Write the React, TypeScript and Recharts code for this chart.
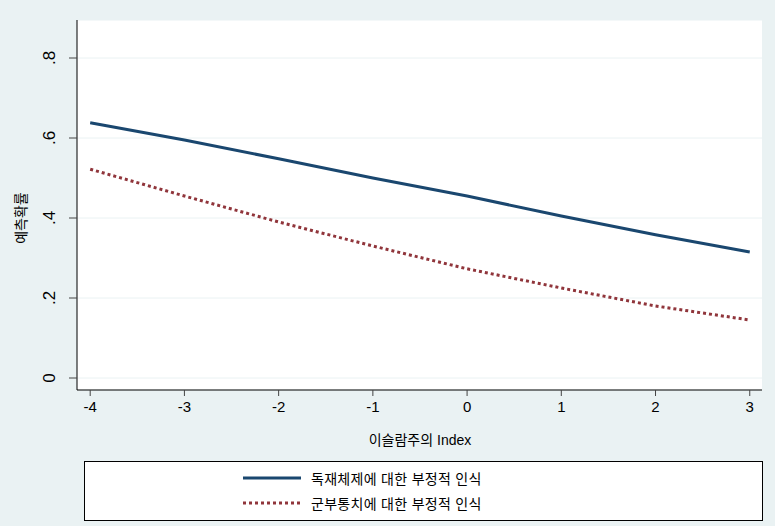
import { LineChart, Line, XAxis, YAxis, CartesianGrid } from "recharts";

const xValues = [-4, -3, -2, -1, 0, 1, 2, 3];
const dictatorship = [0.638, 0.595, 0.548, 0.5, 0.455, 0.405, 0.358, 0.315];
const militaryRule = [0.522, 0.455, 0.39, 0.33, 0.273, 0.225, 0.18, 0.145];
const xTicks = [-4, -3, -2, -1, 0, 1, 2, 3];
const yTicks = [0, 0.2, 0.4, 0.6, 0.8];
const seriesNames = ["독재체제에 대한 부정적 인식", "군부통치에 대한 부정적 인식"];

const NAVY = "#1a476f";
const MAROON = "#90353b";
const BG = "#eaf2f3";
const FONT = "'Liberation Sans', Arial, 'Noto Sans CJK KR', sans-serif";

const data = xValues.map((x, i) => ({ x, a: dictatorship[i], b: militaryRule[i] }));

const fmtY = (v: number) => (v === 0 ? "0" : String(v).replace(/^0/, ""));

const YTick = (props: any) => {
  const { x, y, payload } = props;
  return (
    <text
      x={x - 12}
      y={y}
      transform={`rotate(-90 ${x - 12} ${y})`}
      textAnchor="middle"
      fontSize={17}
      fill="#000"
      fontFamily={FONT}
    >
      {fmtY(payload.value)}
    </text>
  );
};

const XTick = (props: any) => {
  const { x, y, payload } = props;
  return (
    <text
      x={x}
      y={y + 14}
      textAnchor="middle"
      fontSize={15}
      fill="#000"
      fontFamily={FONT}
    >
      {payload.value}
    </text>
  );
};

export default function App() {
  return (
    <div
      style={{
        position: "absolute",
        left: 0,
        top: 0,
        width: 775,
        height: 526,
        background: BG,
        fontFamily: FONT,
      }}
    >
      <LineChart
        width={775}
        height={450}
        data={data}
        margin={{ top: 20, right: 13, left: 37, bottom: 30 }}
      >
        <CartesianGrid vertical={false} stroke={BG} fill="#ffffff" />
        <XAxis
          dataKey="x"
          type="number"
          domain={[-4.14, 3.13]}
          ticks={xTicks}
          allowDataOverflow
          height={30}
          stroke="#000"
          tickSize={6}
          tick={<XTick />}
          tickLine={{ stroke: "#444" }}
        />
        <YAxis
          type="number"
          domain={[-0.03, 0.895]}
          ticks={yTicks}
          allowDataOverflow
          width={40}
          stroke="#000"
          tickSize={8}
          tickLine={{ stroke: "#444" }}
          tick={<YTick />}
        />
        <Line
          dataKey="a"
          stroke={NAVY}
          strokeWidth={3}
          dot={false}
          isAnimationActive={false}
        />
        <Line
          dataKey="b"
          stroke={MAROON}
          strokeWidth={3}
          strokeDasharray="3 3"
          dot={false}
          isAnimationActive={false}
        />
      </LineChart>

      <div
        style={{
          position: "absolute",
          left: 20,
          top: 218,
          transform: "translate(-50%, -50%) rotate(-90deg)",
          fontSize: 14,
          color: "#000",
          whiteSpace: "nowrap",
        }}
      >
        예측확률
      </div>
      <div
        style={{
          position: "absolute",
          left: 420,
          top: 439,
          transform: "translate(-50%, -50%)",
          fontSize: 14,
          color: "#000",
          whiteSpace: "nowrap",
        }}
      >
        이슬람주의 Index
      </div>

      <div
        style={{
          position: "absolute",
          left: 84,
          top: 461,
          width: 677,
          height: 58,
          background: "#fff",
          border: "1px solid #000",
        }}
      >
        {seriesNames.map((name, i) => (
          <div
            key={name}
            style={{
              position: "absolute",
              left: 158,
              top: 6 + i * 25,
              height: 20,
              display: "flex",
              alignItems: "center",
              fontSize: 14,
              whiteSpace: "nowrap",
              letterSpacing: 0.3,
            }}
          >
            <svg width={58} height={6} style={{ marginRight: 10 }}>
              <line
                x1={0}
                y1={3}
                x2={58}
                y2={3}
                stroke={i === 0 ? NAVY : MAROON}
                strokeWidth={3}
                strokeDasharray={i === 0 ? undefined : "3 3"}
              />
            </svg>
            <span>{name}</span>
          </div>
        ))}
      </div>
    </div>
  );
}
